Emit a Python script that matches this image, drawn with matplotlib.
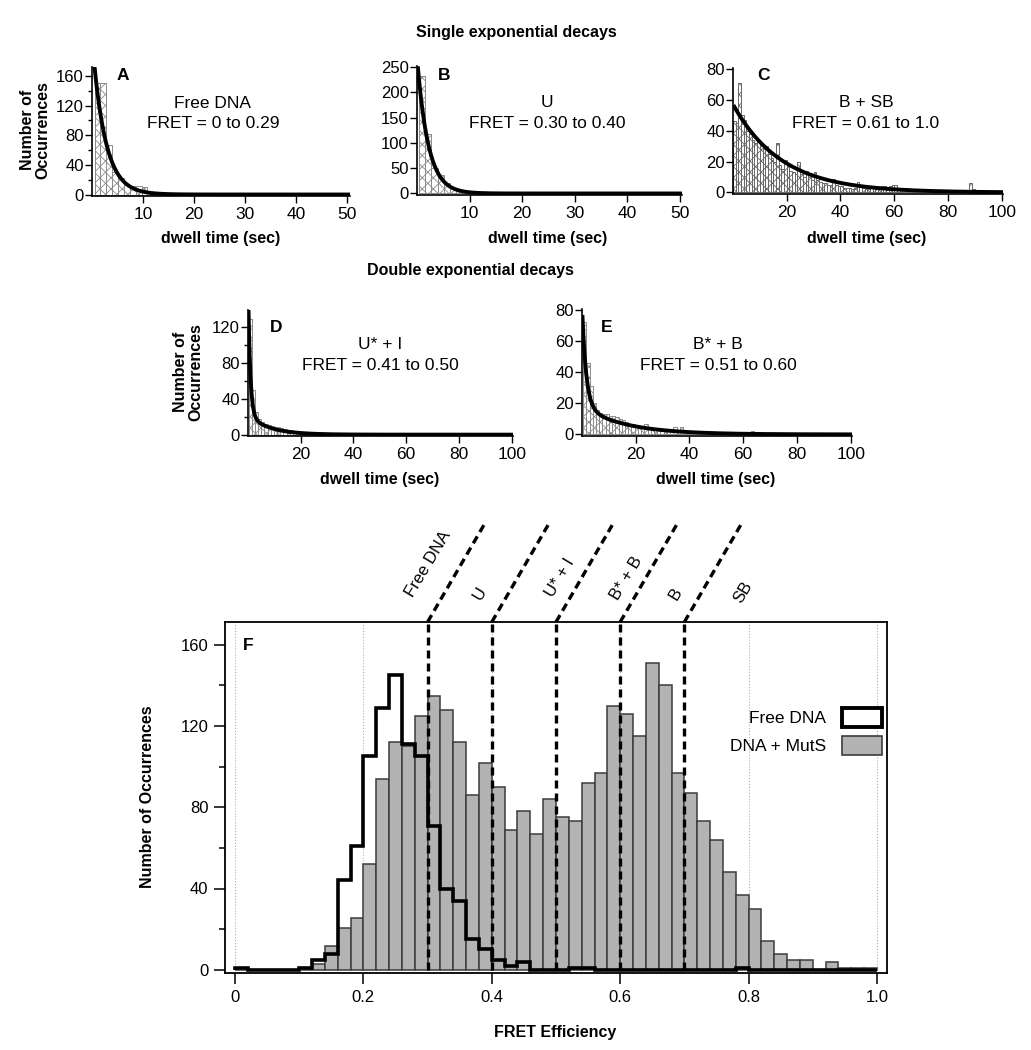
import numpy as np
import matplotlib.pyplot as plt
from matplotlib.patches import Patch

plt.rcParams['font.family'] = ['Liberation Sans', 'DejaVu Sans']
plt.rcParams['hatch.linewidth'] = 0.6

# ---- dwell time histograms (counts per bin) ----
A_start, A_width = 0.5, 1.15
A_counts = [150, 150, 67, 30, 22, 13, 12, 11, 10, 3, 2, 1]
A_fit = ([210], [2.5])

B_start, B_width = 0.3, 1.2
B_counts = [233, 117, 51, 36, 20, 11, 7, 3, 2, 1]
B_fit = ([270], [2.1])

C_start, C_width = 0.0, 1.0
C_counts = [46, 45, 71, 50, 47, 40, 38, 34, 32, 33, 30, 28, 30, 25, 22, 20, 32, 18, 15, 21,
            17, 14, 13, 12, 20, 12, 10, 14, 10, 8, 13, 8, 7, 6, 6, 5, 5, 9, 5, 4,
            4, 3, 3, 3, 2, 3, 7, 5, 3, 3, 2, 4, 3, 2, 3, 4, 4, 2, 4, 5,
            5, 2, 2, 2, 3, 2, 2, 1, 2, 1, 2, 2, 1, 1, 1, 0, 1, 0, 1, 0,
            0, 1, 0, 0, 0, 0, 0, 0, 6, 2, 1, 0, 0, 0, 0, 0, 0, 0, 0, 0]
C_fit = ([57], [18])

D_start, D_width = 0.25, 1.2
D_counts = [129, 50, 25, 17, 14, 12, 11, 10, 9, 8, 7, 6, 5, 5, 4, 4, 3, 3, 2, 2,
            2, 2, 1, 1, 1, 1, 1, 1, 1, 0, 1, 0, 1, 0, 0, 1]
D_fit = ([150, 22], [0.8, 8])

E_start, E_width = 0.4, 1.2
E_counts = [72, 46, 31, 20, 16, 14, 13, 13, 12, 12, 11, 10, 9, 8, 7, 7, 6, 5, 5, 7,
            4, 4, 3, 4, 3, 3, 3, 2, 5, 3, 5, 2, 2, 1, 1, 1, 1, 1, 1, 1,
            1, 1, 1, 0, 1, 0, 0, 0, 0, 0, 0, 0, 2, 0, 0, 0, 0, 0, 0, 0,
            0, 0, 0, 0, 0, 0, 0, 0, 0, 1]
E_fit = ([65, 18], [1.5, 16])

# ---- FRET histogram, bins of 0.02 from 0 to 1 ----
fret_edges = np.linspace(0, 1, 51)
free_dna = [1, 0, 0, 0, 0, 1, 5, 8, 44, 61, 105, 129, 145, 111, 105, 71, 40, 34, 15, 10,
            5, 2, 4, 0, 0, 0, 1, 1, 0, 0, 0, 0, 0, 0, 0, 0, 0, 0, 0, 1,
            0, 0, 0, 0, 0, 0, 0, 0, 0, 0]
dna_muts = [0, 0, 0, 0, 0, 0, 3, 11.5, 20.5, 25.5, 52, 94, 112, 110, 125, 135, 128, 112, 86, 102,
            90, 69, 78, 67, 84, 75, 73, 92, 97, 130, 126, 115, 151, 140, 97, 87, 73, 64, 48, 37,
            30, 14, 8, 5, 5, 0, 4, 1, 1, 1]
state_bounds = [0.3, 0.4, 0.5, 0.6, 0.7]
state_names = ['Free DNA', 'U', 'U* + I', 'B* + B', 'B', 'SB']
state_label_x = [0.301, 0.382, 0.506, 0.609, 0.686, 0.792]
state_label_y = [200, 185, 193, 193, 185, 186]

W, H = 1031, 1050
fig = plt.figure(figsize=(W / 100, H / 100), dpi=100)


def box(l, t, r, b):
    return [l / W, 1 - b / H, (r - l) / W, (b - t) / H]


def ftext(x, y, s, **kw):
    fig.text(x / W, 1 - y / H, s, ha='center', va='center', **kw)


def decay_panel(rect, start, width, counts, fit, xmax, ylim, yticks, yminor, xticks, edge='#8a8a8a'):
    ax = fig.add_axes(rect)
    left = start + width * np.arange(len(counts))
    ax.bar(left, counts, width=width, align='edge', facecolor='white',
           edgecolor=edge, hatch='xxx', lw=0.7)
    t = np.linspace(0.15, xmax, 800)
    y = np.zeros_like(t)
    for a, tau in zip(*fit):
        y += a * np.exp(-t / tau)
    ax.plot(t, y, color='black', lw=2.8, solid_capstyle='butt')
    ax.set_xlim(0, xmax)
    ax.set_ylim(*ylim)
    ax.set_xticks(xticks)
    ax.set_yticks(yticks)
    if yminor:
        ax.set_yticks(yminor, minor=True)
    for s in ['top', 'right']:
        ax.spines[s].set_visible(False)
    for s in ['left', 'bottom']:
        ax.spines[s].set_linewidth(1.2)
    ax.tick_params(direction='out', length=5, width=1, pad=1)
    ax.tick_params(axis='x', labelsize=12.5, pad=3)
    ax.tick_params(axis='y', labelsize=12)
    ax.tick_params(which='minor', direction='out', length=3, width=1)
    return ax


decay_panel(box(92, 67, 350, 196), A_start, A_width, A_counts, A_fit, 50.5,
            (-2, 172), [0, 40, 80, 120, 160], [20, 60, 100, 140], [10, 20, 30, 40, 50])
decay_panel(box(417, 66, 682, 195), B_start, B_width, B_counts, B_fit, 50.4,
            (-3, 252), [0, 50, 100, 150, 200, 250], None, [10, 20, 30, 40, 50])
decay_panel(box(733, 68, 1003, 194), C_start, C_width, C_counts, C_fit, 100.5,
            (-1, 80.5), [0, 20, 40, 60, 80], None, [20, 40, 60, 80, 100], edge='#666666')
decay_panel(box(248, 310, 513, 436), D_start, D_width, D_counts, D_fit, 100.5,
            (-1.5, 139), [0, 40, 80, 120], [20, 60, 100], [20, 40, 60, 80, 100])
decay_panel(box(582, 309, 852, 436), E_start, E_width, E_counts, E_fit, 100.5,
            (-1, 80.5), [0, 20, 40, 60, 80], None, [20, 40, 60, 80, 100])

bold = dict(fontsize=11.5, fontweight='bold')
ftext(516, 32, 'Single exponential decays', **bold)
ftext(470, 270, 'Double exponential decays', **bold)
for x, y in [(221, 238), (548, 238), (867, 238), (380, 479), (716, 479)]:
    ftext(x, y, 'dwell time (sec)', **bold)
ftext(35, 130, 'Number of\nOccurrences', rotation=90, linespacing=1.0, **bold)
ftext(188, 372, 'Number of\nOccurrences', rotation=90, linespacing=1.0, **bold)

letters = [('A', 123, 76), ('B', 444, 75), ('C', 763, 76), ('D', 276, 327), ('E', 607, 327), ('F', 248, 645)]
for s, x, y in letters:
    ftext(x, y, s, fontsize=12.5, fontweight='bold')

notes = [(213, 103, 'Free DNA'), (213, 124, 'FRET = 0 to 0.29'),
         (547, 102, 'U'), (547, 123, 'FRET = 0.30 to 0.40'),
         (866, 102, 'B + SB'), (866, 123, 'FRET = 0.61 to 1.0'),
         (380, 345, 'U* + I'), (380, 366, 'FRET = 0.41 to 0.50'),
         (718, 345, 'B* + B'), (718, 365, 'FRET = 0.51 to 0.60')]
for x, y, s in notes:
    ftext(x, y, s, fontsize=12.5)

# ---- panel F ----
ax = fig.add_axes(box(225, 622, 887, 973))
ytop = 171.2
ax.set_axisbelow(True)
ax.grid(axis='x', linestyle=':', color='#b0b0b0', lw=0.8)
ax.bar(fret_edges[:-1], dna_muts, width=0.02, align='edge', facecolor='#b3b3b3',
       edgecolor='#3c3c3c', lw=1.1, zorder=2)
ax.stairs(free_dna, fret_edges, color='black', lw=2.6, zorder=3)
dash = (0, (2.4, 1.5))
for xb in state_bounds:
    ax.plot([xb, xb], [0, ytop], color='black', lw=2.4, linestyle=dash, zorder=4)
    ax.plot([xb, xb + 0.09], [ytop, ytop + 49], color='black', lw=2.4,
            linestyle=dash, clip_on=False, zorder=4)
for s, x, y in zip(state_names, state_label_x, state_label_y):
    ax.text(x, y, s, rotation=59, ha='center', va='center', fontsize=12,
            rotation_mode='anchor', clip_on=False)
ax.set_xlim(-0.0156, 1.0156)
ax.set_ylim(-1.6, ytop)
ax.set_xticks([0, 0.2, 0.4, 0.6, 0.8, 1.0])
ax.set_xticklabels(['0', '0.2', '0.4', '0.6', '0.8', '1.0'])
ax.set_yticks([0, 40, 80, 120, 160])
ax.set_yticks([20, 60, 100, 140], minor=True)
ax.tick_params(direction='out', length=8, width=1.1, labelsize=12, pad=4)
ax.tick_params(which='minor', direction='out', length=4, width=1.1)
for s in ax.spines.values():
    s.set_linewidth(1.3)
ax.legend(handles=[Patch(facecolor='white', edgecolor='black', lw=2.8),
                   Patch(facecolor='#b3b3b3', edgecolor='#3c3c3c', lw=1.2)],
          labels=['Free DNA', 'DNA + MutS'], loc='upper right',
          bbox_to_anchor=(0.992, 0.755), markerfirst=False, frameon=False,
          fontsize=12.5, handlelength=2.3, handleheight=1.3, handletextpad=0.9,
          labelspacing=0.5, borderaxespad=0, borderpad=0)
ftext(555, 1032, 'FRET Efficiency', **bold)
ftext(148, 797, 'Number of Occurrences', rotation=90, **bold)

fig.savefig('out.png', dpi=100)
